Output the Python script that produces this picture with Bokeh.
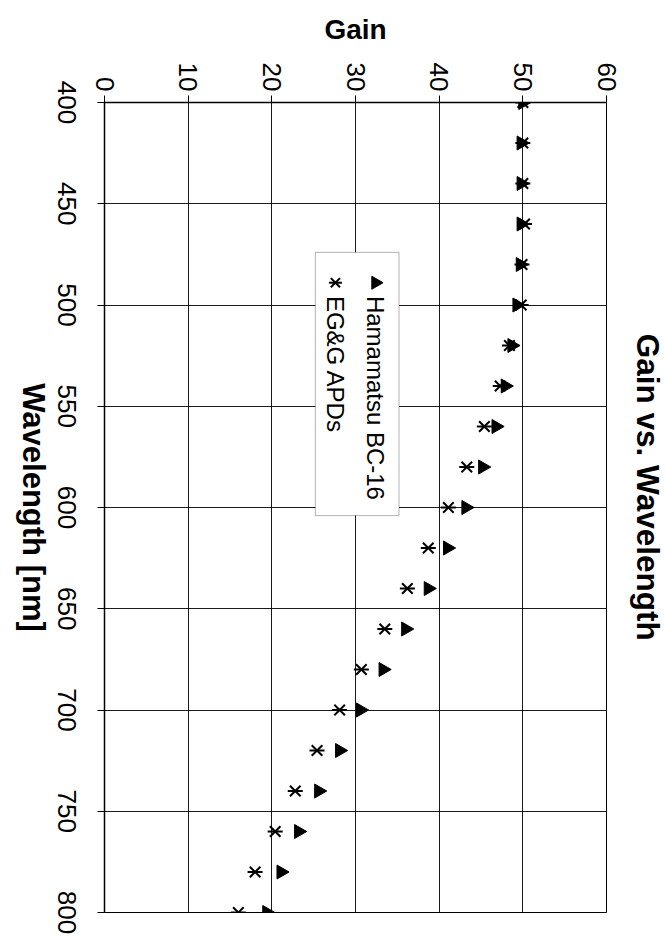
import math
from bokeh.plotting import figure
from bokeh.layouts import row
from bokeh.models import Range1d, FixedTicker, BoxAnnotation, Label
from bokeh.core.properties import value
from bokeh.embed import file_html
from bokeh.resources import INLINE

# ---------------- data ----------------
wavelength = [400, 420, 440, 460, 480, 500, 520, 540, 560, 580, 600,
              620, 640, 660, 680, 700, 720, 740, 760, 780, 800]
hamamatsu_gain = [50.0, 49.8, 49.8, 49.8, 49.7, 49.3, 48.7, 47.9, 46.8, 45.2, 43.2,
                  41.0, 38.7, 36.0, 33.3, 30.6, 28.1, 25.6, 23.2, 21.1, 19.4]
egg_gain = [50.0, 50.0, 50.0, 50.2, 49.9, 49.8, 48.4, 47.3, 45.4, 43.3, 41.1,
            38.7, 36.2, 33.5, 30.7, 28.1, 25.4, 22.8, 20.4, 18.0, 16.0]
gain_ticks = [0, 10, 20, 30, 40, 50, 60]
wavelength_ticks = [400, 450, 500, 550, 600, 650, 700, 750, 800]
wavelength_tick_labels = [str(t) for t in wavelength_ticks]
series_names = ["Hamamatsu BC-16", "EG&G APDs"]
chart_title = "Gain vs. Wavelength"
x_title = "Wavelength [nm]"
y_title = "Gain"

FONT = "Liberation Sans"
TOP, BOTTOM = 102, 29
LEFT_W, RIGHT_W, TOTAL_W, TOTAL_H = 88, 43, 665, 941
MAIN_W = TOTAL_W - LEFT_W - RIGHT_W
WL_MIN, WL_MAX = wavelength_ticks[0], wavelength_ticks[-1]

y_range = Range1d(WL_MAX, WL_MIN)

# ---------------- main plot ----------------
p = figure(width=MAIN_W, height=TOTAL_H, output_backend="svg", toolbar_location=None,
           x_range=Range1d(gain_ticks[0], gain_ticks[-1]), y_range=y_range,
           x_axis_location="above", y_axis_location="left",
           min_border_left=16, min_border_right=16, min_border_top=TOP, min_border_bottom=BOTTOM,
           background_fill_color="white", border_fill_color="white")
p.title.visible = False
p.outline_line_color = "black"
p.outline_line_width = 1

for ax, ticks in ((p.xaxis[0], gain_ticks), (p.yaxis[0], wavelength_ticks)):
    ax.ticker = FixedTicker(ticks=ticks)
    ax.axis_line_color = "black"
    ax.axis_line_width = 1.5
    ax.major_tick_line_color = "black"
    ax.major_tick_out = 7
    ax.major_tick_in = 0
    ax.minor_tick_line_color = None
    ax.major_label_orientation = -math.pi / 2
    ax.major_label_text_font = FONT
    ax.major_label_text_font_size = "26px"
    ax.major_label_text_color = "black"

p.xaxis.axis_label = y_title
p.xaxis.axis_label_text_font = FONT
p.xaxis.axis_label_text_font_style = "bold"
p.xaxis.axis_label_text_color = "black"
p.xaxis.axis_label_text_font_size = "28px"
p.xaxis.major_label_standoff = 4
p.xaxis.axis_label_standoff = 15

# wavelength tick labels are drawn (rotated, centred) in the left strip
p.yaxis.major_label_text_font_size = "1px"
p.yaxis.major_label_text_color = None
p.yaxis.major_label_standoff = 0

p.xgrid.ticker = FixedTicker(ticks=gain_ticks)
p.ygrid.ticker = FixedTicker(ticks=wavelength_ticks)
for g in (p.xgrid[0], p.ygrid[0]):
    g.grid_line_color = "black"
    g.grid_line_width = 1
    g.grid_line_alpha = 0.9

p.scatter(hamamatsu_gain, wavelength, marker="triangle", size=14, angle=-math.pi / 2,
          fill_color="black", line_color="black")
p.scatter(egg_gain, wavelength, marker="x", size=15, line_color="black", line_width=2)
p.scatter(egg_gain, wavelength, marker="dash", size=15, line_color="black", line_width=2)

# manual rotated legend
LEG_LEFT, LEG_RIGHT, LEG_TOP, LEG_BOTTOM = 25.2, 35.2, 474, 604
p.add_layout(BoxAnnotation(left=LEG_LEFT, right=LEG_RIGHT, top=LEG_TOP, bottom=LEG_BOTTOM,
                           fill_color="white", fill_alpha=1, line_color="black",
                           line_width=1, level="underlay"))
LEG_MARK_Y, LEG_TEXT_Y = 489, 495.5
LEG_X = [32.4, 27.6]
p.scatter([LEG_X[0]], [LEG_MARK_Y], marker="triangle", size=13, angle=-math.pi / 2,
          fill_color="black", line_color="black")
p.scatter([LEG_X[1]], [LEG_MARK_Y], marker="x", size=13, line_color="black", line_width=2)
p.scatter([LEG_X[1]], [LEG_MARK_Y], marker="dash", size=13, line_color="black", line_width=2)
for xx, name in zip(LEG_X, series_names):
    p.add_layout(Label(x=xx, y=LEG_TEXT_Y, text=name, angle=-math.pi / 2,
                       text_align="left", text_baseline="middle", text_font=FONT,
                       text_font_size="24px", text_color="black"))

# ---------------- left strip: wavelength tick labels + axis title ----------------
# same wavelength scale as the main frame, extended over the full strip height
px_per_nm = (TOTAL_H - TOP - BOTTOM) / (WL_MAX - WL_MIN)
left_range = Range1d(WL_MAX + BOTTOM / px_per_nm, WL_MIN - TOP / px_per_nm)
left = figure(width=LEFT_W, height=TOTAL_H, output_backend="svg", toolbar_location=None,
              x_range=Range1d(0, LEFT_W), y_range=left_range,
              x_axis_type=None, y_axis_type=None,
              min_border_left=0, min_border_right=0, min_border_top=0, min_border_bottom=0,
              background_fill_color="white", border_fill_color="white")
left.frame_align = False
left.title.visible = False
left.outline_line_color = None
left.grid.visible = False
left.text(x=[66] * len(wavelength_ticks), y=wavelength_ticks, text=wavelength_tick_labels,
          angle=-math.pi / 2, text_align="center", text_baseline="middle",
          text_font=value(FONT), text_font_size="26px", text_color="black")
left.text(x=[33], y=[600], text=[x_title], angle=-math.pi / 2, text_align="center",
          text_baseline="middle", text_font=value(FONT), text_font_size="31px",
          text_font_style="bold", text_color="black")

# ---------------- right strip: chart title ----------------
right = figure(width=RIGHT_W, height=TOTAL_H, output_backend="svg", toolbar_location=None,
               x_range=Range1d(0, RIGHT_W), y_range=y_range,
               x_axis_type=None, y_axis_type=None,
               min_border_left=0, min_border_right=0, min_border_top=TOP, min_border_bottom=BOTTOM,
               background_fill_color="white", border_fill_color="white")
right.title.visible = False
right.outline_line_color = None
right.grid.visible = False
right.text(x=[25], y=[590], text=[chart_title], angle=-math.pi / 2, text_align="center",
           text_baseline="middle", text_font=value(FONT), text_font_size="31.5px",
           text_font_style="bold", text_color="black")

layout = row(left, p, right)
open("out.html", "w").write(file_html(layout, INLINE))
